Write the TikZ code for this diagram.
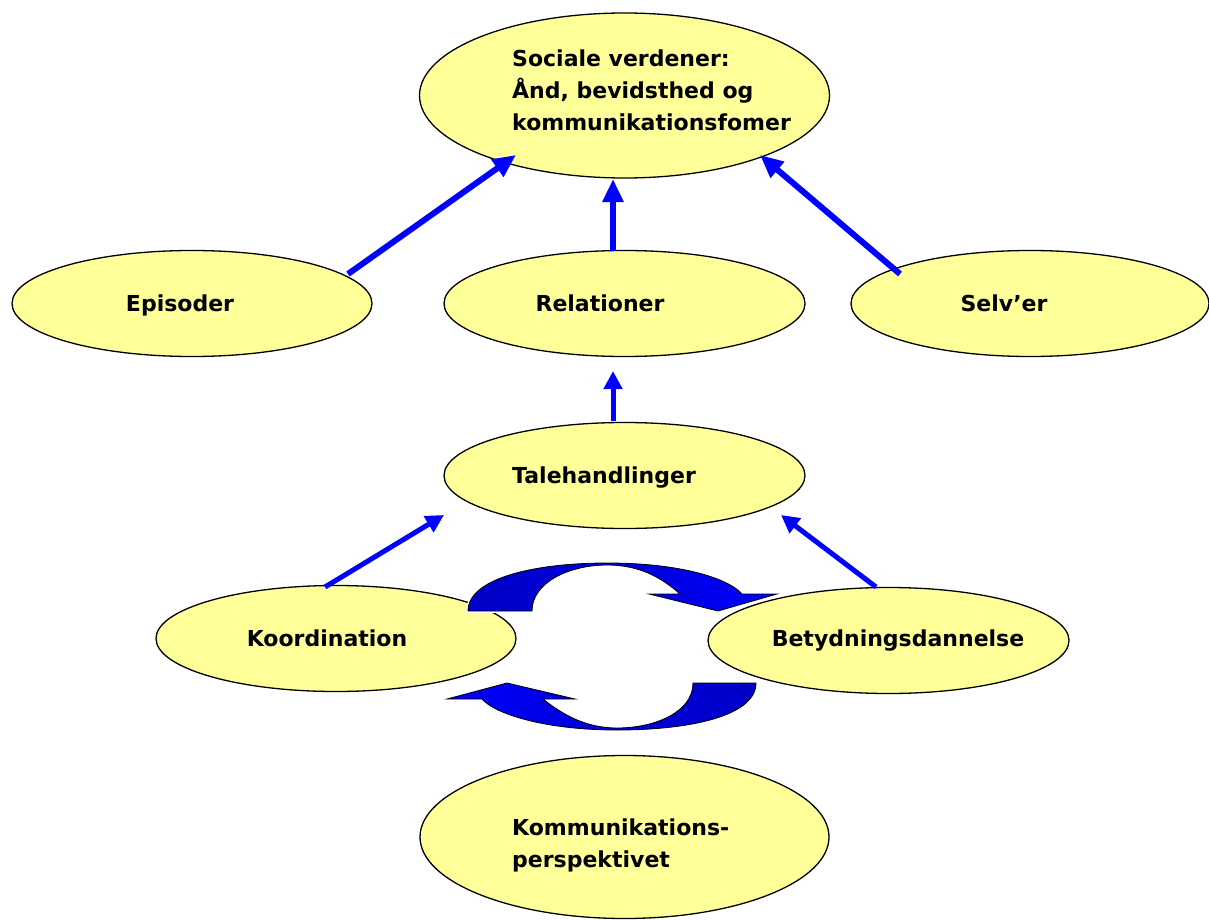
\documentclass[tikz,border=0pt]{standalone}
\usepackage{fontspec}
\setmainfont{DejaVu Sans}
\usetikzlibrary{shapes.geometric,arrows.meta}
\definecolor{ellfill}{HTML}{FFFF99}
\definecolor{darkblue}{HTML}{0000C8}
\begin{document}
\begin{tikzpicture}[x=1pt,y=-1pt,
  ell/.style={ellipse,draw=black,line width=1.3pt,fill=ellfill,inner sep=0pt},
  lbl/.style={font=\bfseries\fontsize{22}{32}\selectfont,inner sep=0pt},
  uparrow/.style={draw=blue,line width=6pt,-{Triangle[length=23pt,width=20pt]}},
  smallarrow/.style={draw=blue,line width=5pt,-{Triangle[length=18pt,width=18pt]}},
  cyc/.style={draw=black,line width=0.8pt,preaction={draw=white,line width=3.5pt}}
]
\useasboundingbox (0,0) rectangle (1209,920);

% ellipses
\node[ell,minimum width=410pt,minimum height=165pt] (soc) at (624.5,95.5) {};
\node[ell,minimum width=360pt,minimum height=106pt] (epi) at (192,303.5) {};
\node[ell,minimum width=361pt,minimum height=106pt] (rel) at (624.5,303.5) {};
\node[ell,minimum width=358pt,minimum height=106pt] (selv) at (1030,303.5) {};
\node[ell,minimum width=361pt,minimum height=106pt] (tale) at (624.5,475.5) {};
\node[ell,minimum width=360pt,minimum height=106pt] (koor) at (336,638.5) {};
\node[ell,minimum width=361pt,minimum height=106pt] (bet) at (888.5,640.5) {};
\node[ell,minimum width=409pt,minimum height=163pt] (kom) at (624.5,837) {};

% labels
\node[lbl,anchor=base west] (socA) at (512,67) {Sociale verdener:};
\node[lbl,anchor=base west] (socB) at (512,99) {Ånd, bevidsthed og};
\node[lbl,anchor=base west] (socC) at (512,131) {kommunikationsfomer};
\node[lbl,anchor=base] (epiT) at (180,311) {Episoder};
\node[lbl,anchor=base] (relT) at (600,311) {Relationer};
\node[lbl,anchor=base] (selvT) at (1004,311) {Selv’er};
\node[lbl,anchor=base] (taleT) at (604,483) {Talehandlinger};
\node[lbl,anchor=base] (koorT) at (327,646) {Koordination};
\node[lbl,anchor=base] (betT) at (898,646) {Betydningsdannelse};
\node[lbl,anchor=base west] (komA) at (512,835) {Kommunikations-};
\node[lbl,anchor=base west] (komB) at (512,867) {perspektivet};

% connector end points
\coordinate (e1) at (348,274);
\coordinate (e2) at (516,155);
\coordinate (r1) at (613,251);
\coordinate (r2) at (613,179);
\coordinate (s1) at (900,274);
\coordinate (s2) at (760,155);
\coordinate (t1) at (613,421);
\coordinate (t2) at (613,371);
\coordinate (k1) at (325,587);
\coordinate (k2) at (444,515);
\coordinate (b1) at (876,587);
\coordinate (b2) at (781,515);

\draw[uparrow] (e1) -- (e2);
\draw[uparrow] (r1) -- (r2);
\draw[uparrow] (s1) -- (s2);
\draw[smallarrow] (t1) -- (t2);
\draw[smallarrow] (k1) -- (k2);
\draw[smallarrow] (b1) -- (b2);

% cycle arrows
\path[cyc,left color=darkblue,right color=blue,middle color=blue!85!black]
  (468,611) .. controls (468,578) and (535,563) .. (607,563)
  .. controls (680,563) and (728,578) .. (742,594)
  -- (777,594) -- (718,611) -- (649,594) -- (680,594)
  .. controls (662,578) and (640,565) .. (607,565)
  .. controls (570,565) and (532,582) .. (532,611) -- cycle;
\path[cyc,left color=blue,right color=darkblue,middle color=blue!85!black]
  (756,683) .. controls (756,716) and (690,730) .. (617,730)
  .. controls (545,730) and (495,714) .. (482,699)
  -- (447,699) -- (507,683) -- (575,699) -- (543,699)
  .. controls (562,714) and (585,728) .. (617,728)
  .. controls (655,728) and (693,712) .. (693,683) -- cycle;
\end{tikzpicture}
\end{document}
